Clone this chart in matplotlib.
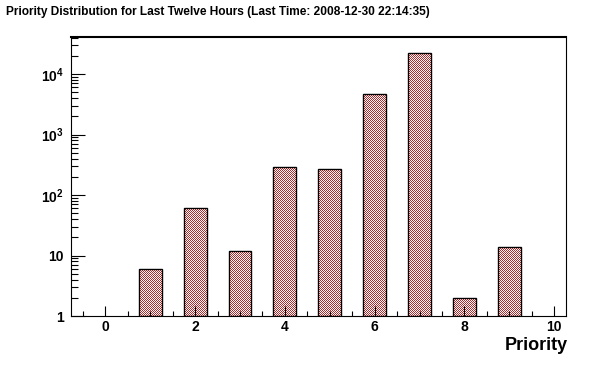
import numpy as np
import matplotlib
matplotlib.use("Agg")
import matplotlib.pyplot as plt
from matplotlib.image import BboxImage
from matplotlib.ticker import MultipleLocator, LogLocator, FixedLocator, NullFormatter

plt.rcParams['font.family'] = ['Liberation Sans', 'DejaVu Sans']
plt.rcParams['font.weight'] = 'bold'
plt.rcParams['mathtext.fontset'] = 'custom'
plt.rcParams['mathtext.rm'] = 'Liberation Sans:bold'
plt.rcParams['mathtext.it'] = 'Liberation Sans:bold'
plt.rcParams['mathtext.bf'] = 'Liberation Sans:bold'

# data
priority = np.arange(0, 11)
counts = np.array([0, 6, 62, 12, 287, 266, 4670, 22000, 2, 14, 0])
title = "Priority Distribution for Last Twelve Hours (Last Time: 2008-12-30 22:14:35)"
xlabel = "Priority"
ytick_vals = [1, 10, 100, 1000, 10000]
ytick_labels = ["1", "10", "$10^{2}$", "$10^{3}$", "$10^{4}$"]

W, H = 596, 372
fig = plt.figure(figsize=(W / 100, H / 100), dpi=100)
ax = fig.add_axes([71 / W, 1 - 316 / H, (566.3 - 71) / W, (316 - 36.7) / H])

mask = counts > 0
base = 1  # bars start at the bottom of the log axis
bars = ax.bar(priority[mask], counts[mask] - base, bottom=base, width=0.51,
              facecolor="none", edgecolor="black", linewidth=1.0, zorder=2)

ax.set_yscale("log")
ax.set_xlim(-0.764, 10.27)
ax.set_ylim(1, 10 ** 4.617)

# red/white checkerboard fill like the ROOT pattern
ii, jj = np.mgrid[0:H, 0:W]
checker = np.ones((H, W, 3))
red = (ii + jj) % 2 == 0
checker[red] = np.array([185, 40, 40]) / 255.0
for b in bars:
    im = BboxImage(fig.bbox, data=checker, interpolation="nearest", zorder=1)
    ax.add_artist(im)
    im.set_clip_path(b.get_path(), b.get_transform())

ax.xaxis.set_major_locator(MultipleLocator(2))
ax.xaxis.set_minor_locator(MultipleLocator(0.5))
ax.yaxis.set_major_locator(FixedLocator(ytick_vals))
ax.yaxis.set_minor_locator(LogLocator(base=10, subs=np.arange(2, 10)))
ax.yaxis.set_minor_formatter(NullFormatter())
ax.set_yticks(ytick_vals)
ax.set_yticklabels(ytick_labels)

ax.tick_params(axis="x", which="major", direction="in", length=7.2, width=0.8,
               labelsize=10, pad=3)
ax.tick_params(axis="x", which="minor", direction="in", length=3.6, width=0.8)
ax.tick_params(axis="y", which="major", direction="in", length=10, width=0.8,
               labelsize=10, pad=5)
ax.tick_params(axis="y", which="minor", direction="in", length=5, width=0.8)
for lab in ax.get_xticklabels() + ax.get_yticklabels():
    lab.set_fontweight("bold")

for side in ["left", "bottom", "right"]:
    ax.spines[side].set_linewidth(0.8)
ax.spines["top"].set_linewidth(1.5)

fig.text(6 / W, 1 - 12 / H, title, fontsize=8.6, fontweight="bold",
         ha="left", va="center")
fig.text(568 / W, 1 - 346 / H, xlabel, fontsize=13, fontweight="bold",
         ha="right", va="center")

fig.savefig("out.png", dpi=100)
